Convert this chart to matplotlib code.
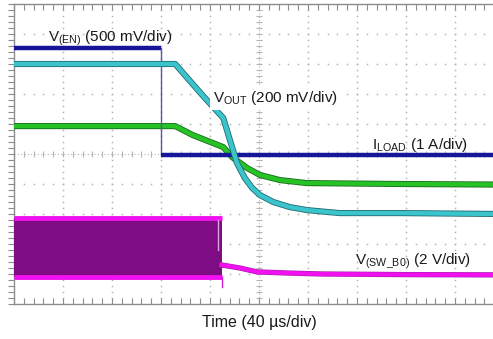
import numpy as np
import matplotlib
matplotlib.use("Agg")
import matplotlib.pyplot as plt
import matplotlib.patheffects as pe

plt.rcParams['font.family'] = ['Liberation Sans', 'DejaVu Sans']
plt.rcParams['mathtext.fontset'] = 'custom'
plt.rcParams['mathtext.rm'] = 'Liberation Sans'
plt.rcParams['mathtext.it'] = 'Liberation Sans:italic'
plt.rcParams['mathtext.bf'] = 'Liberation Sans:bold'

# ---- data (time and amplitude in scope divisions) ----
ven_time = [0.0, 3.0, 3.0, 10.0]
ven_level = [8.53, 8.53, 4.97, 4.97]

vout_time = [0.0, 3.29, 3.84, 4.27, 4.55, 4.71, 4.86, 5.02, 5.29, 5.63, 5.98, 6.65, 7.88, 10.0]
vout_level = [8.0, 8.0, 6.97, 6.2, 4.7, 4.2, 3.87, 3.63, 3.4, 3.23, 3.13, 3.03, 3.03, 3.0]

green_time = [0.0, 3.29, 3.65, 4.27, 4.45, 4.76, 5.02, 5.43, 5.98, 7.88, 10.0]
green_level = [5.93, 5.93, 5.63, 5.23, 4.9, 4.53, 4.3, 4.13, 4.03, 4.0, 3.98]

sw_band_time = [0.0, 4.24]
sw_band_high = [2.87, 2.87]
sw_band_low = [0.9, 0.9]
sw_tail_time = [4.24, 4.61, 4.96, 5.63, 6.29, 8.0, 10.0]
sw_tail_level = [1.3, 1.2, 1.07, 1.03, 1.0, 0.98, 0.97]
sw_spike_time = [4.24, 4.24]
sw_spike_level = [0.9, 0.57]
sw_glitch_time = [4.16, 4.16]
sw_glitch_level = [2.8, 1.8]

labels = [
    (0.69, 8.73, r'V$_{\mathrm{(EN)}}$ (500 mV/div)'),
    (4.06, 6.73, r'V$_{\mathrm{OUT}}$ (200 mV/div)'),
    (7.31, 5.17, r'I$_{\mathrm{LOAD}}$ (1 A/div)'),
    (6.96, 1.30, r'V$_{\mathrm{(SW\_B0)}}$ (2 V/div)'),
]
xlabel = 'Time (40 µs/div)'

W, H = 493, 339
fig = plt.figure(figsize=(W / 100, H / 100), dpi=100)
ax = fig.add_axes([14 / W, 1 - 304 / H, 490 / W, 300 / H])
ax.set_xlim(0, 10)
ax.set_ylim(0, 10)
ax.set_xticks([])
ax.set_yticks([])
for s in ['left', 'top', 'bottom']:
    ax.spines[s].set_color('#8c8c8c')
    ax.spines[s].set_linewidth(1.0)
ax.spines['right'].set_visible(False)

# grid dots
gc = '#b4b4b4'
xs = np.arange(0, 10.01, 0.2)
ys = np.arange(0, 10.01, 0.2)
for k in range(1, 10):
    if k != 5:
        ax.plot(xs, np.full_like(xs, k), ls='none', marker='s', ms=1.1, mec='none', mfc=gc, zorder=1)
        ax.plot(np.full_like(ys, k), ys, ls='none', marker='s', ms=1.1, mec='none', mfc=gc, zorder=1)
# center cross with ticks
ax.plot(xs, np.full_like(xs, 5), ls='none', marker='|', ms=5, mew=0.8, color=gc, zorder=1)
ax.plot(xs, np.full_like(xs, 5), ls=(0, (1, 2)), lw=0.8, color=gc, zorder=1)
ax.plot(np.full_like(ys, 5), ys, ls='none', marker='_', ms=5, mew=0.8, color=gc, zorder=1)
ax.plot(np.full_like(ys, 5), ys, ls=(0, (1, 2)), lw=0.8, color=gc, zorder=1)
# border ticks
ax.plot(xs, np.zeros_like(xs), ls='none', marker=2, ms=4, mew=0.8, color='#8c8c8c', clip_on=False)
ax.plot(xs, np.full_like(xs, 10), ls='none', marker=3, ms=4, mew=0.8, color='#8c8c8c', clip_on=False)
ax.plot(np.zeros_like(ys), ys, ls='none', marker=0, ms=4, mew=0.8, color='#8c8c8c', clip_on=False)

# magenta switching node
ax.fill_between(sw_band_time, sw_band_low, sw_band_high, color='#7e0c82', lw=0, zorder=3)
ax.plot(sw_band_time, sw_band_high, color='#f010f0', lw=3.5, zorder=4, solid_capstyle='butt')
ax.plot(sw_band_time, sw_band_low, color='#f010f0', lw=3.5, zorder=4, solid_capstyle='butt')
ax.plot(sw_spike_time, sw_spike_level, color='#d020d0', lw=1.0, zorder=4)
ax.plot(sw_glitch_time, sw_glitch_level, color='#e8a0e8', lw=1.0, zorder=4)
ax.plot(sw_tail_time, sw_tail_level, color='#f010f0', lw=3.0, zorder=4,
        path_effects=[pe.withStroke(linewidth=3.8, foreground='#a020a0')])

# green trace
ax.plot(green_time, green_level, color='#26c226', lw=3.2, zorder=5,
        path_effects=[pe.withStroke(linewidth=4.4, foreground='#1a6a1a')])

# blue EN / load trace
ax.plot(ven_time[1:3], ven_level[1:3], color='#5a5aa0', lw=1.0, zorder=6)
ax.plot(ven_time[0:2], ven_level[0:2], color='#16169a', lw=3.2, zorder=6, solid_capstyle='butt')
ax.plot(ven_time[2:4], ven_level[2:4], color='#16169a', lw=3.2, zorder=6, solid_capstyle='butt')

# cyan Vout trace
ax.plot(vout_time, vout_level, color='#3cc4cc', lw=3.2, zorder=7,
        path_effects=[pe.withStroke(linewidth=4.4, foreground='#1e6a70')])

fs = 11
for i, (x, y, t) in enumerate(labels):
    kw = {}
    if i == 1:
        kw['bbox'] = dict(boxstyle='square,pad=0.2', fc='white', ec='none')
    ax.text(x, y, t, fontsize=fs, ha='left', va='baseline', color='#1a1a1a', zorder=10, **kw)

fig.text(259 / W, 1 - 327 / H, xlabel, fontsize=11.5, ha='center', va='baseline', color='#1a1a1a')

fig.savefig('out.png', dpi=100)
